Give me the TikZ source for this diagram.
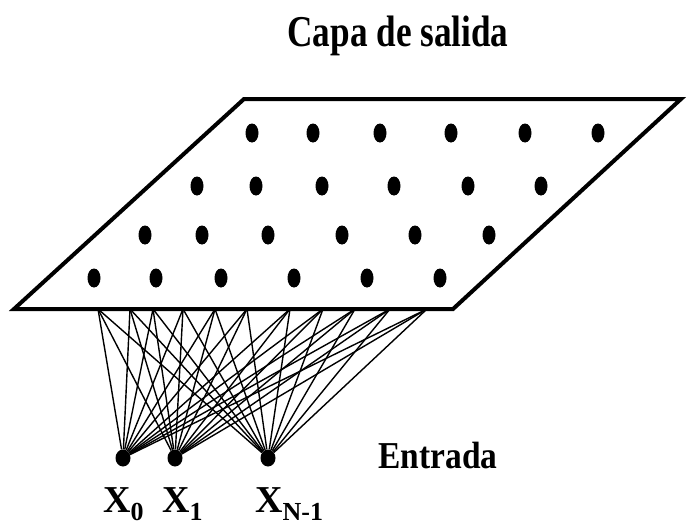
\documentclass[tikz,border=0pt]{standalone}
\usepackage{fontspec}
\setmainfont{Liberation Serif}
\usetikzlibrary{shapes.geometric}
\newcommand{\xsub}[1]{X\raisebox{-8pt}{\fontsize{26}{26}\selectfont #1}}
\tikzset{
  neuron/.style={ellipse,fill=black,inner sep=0pt,minimum width=13pt,minimum height=19pt},
  inputnode/.style={ellipse,fill=black,inner sep=0pt,minimum width=15pt,minimum height=17pt},
  plane/.style={draw=black,line width=4pt,line join=miter},
  link/.style={draw=black,line width=1.4pt},
  lbl/.style={font=\bfseries,inner sep=0pt,anchor=base}
}

\begin{document}
\begin{tikzpicture}[x=1pt,y=-1pt]
  \useasboundingbox (0,0) rectangle (687,530);
  % plane corners
  \coordinate (bl) at (14,309);
  \coordinate (tl) at (244,99);
  \coordinate (tr) at (681,99);
  \coordinate (br) at (453,309);

  % input units
  \node[inputnode] (x0) at (123,458) {};
  \node[inputnode] (x1) at (175,458) {};
  \node[inputnode] (xn) at (268,458) {};

  % links to the output layer
  \foreach \ex [count=\i] in {98,130,153,183,215,247,290,323,355,390,427}
    \coordinate (e\i) at (\ex,309);
  \foreach \src in {x0,x1,xn}
    \foreach \i in {1,...,11}
      \draw[link] (\src) -- (e\i);

  \draw[plane] (bl) -- (tl) -- (tr) -- (br) -- cycle;

  % output units, row by row
  \foreach \xa [count=\c] in {252,313,380,451,525,598}
    \node[neuron] (n1\c) at (\xa,133) {};
  \foreach \xa [count=\c] in {197,256,322,394,468,541}
    \node[neuron] (n2\c) at (\xa,186) {};
  \foreach \xa [count=\c] in {145,202,268,342,415,489}
    \node[neuron] (n3\c) at (\xa,235) {};
  \foreach \xa [count=\c] in {94,156,221,294,367,440}
    \node[neuron] (n4\c) at (\xa,278) {};

  % labels
  \node[lbl] (title) at (398,46) {\fontsize{44}{48}\selectfont\scalebox{0.8}[1]{Capa de salida}};
  \node[lbl] (entrada) at (438,468) {\fontsize{38}{42}\selectfont\scalebox{0.88}[1]{Entrada}};
  \node[lbl,anchor=base west] (l0) at (103,512) {\fontsize{38}{40}\selectfont\xsub{0}};
  \node[lbl,anchor=base west] (l1) at (162,512) {\fontsize{38}{40}\selectfont\xsub{1}};
  \node[lbl,anchor=base west] (ln) at (255,512) {\fontsize{38}{40}\selectfont\xsub{N-1}};
\end{tikzpicture}
\end{document}
